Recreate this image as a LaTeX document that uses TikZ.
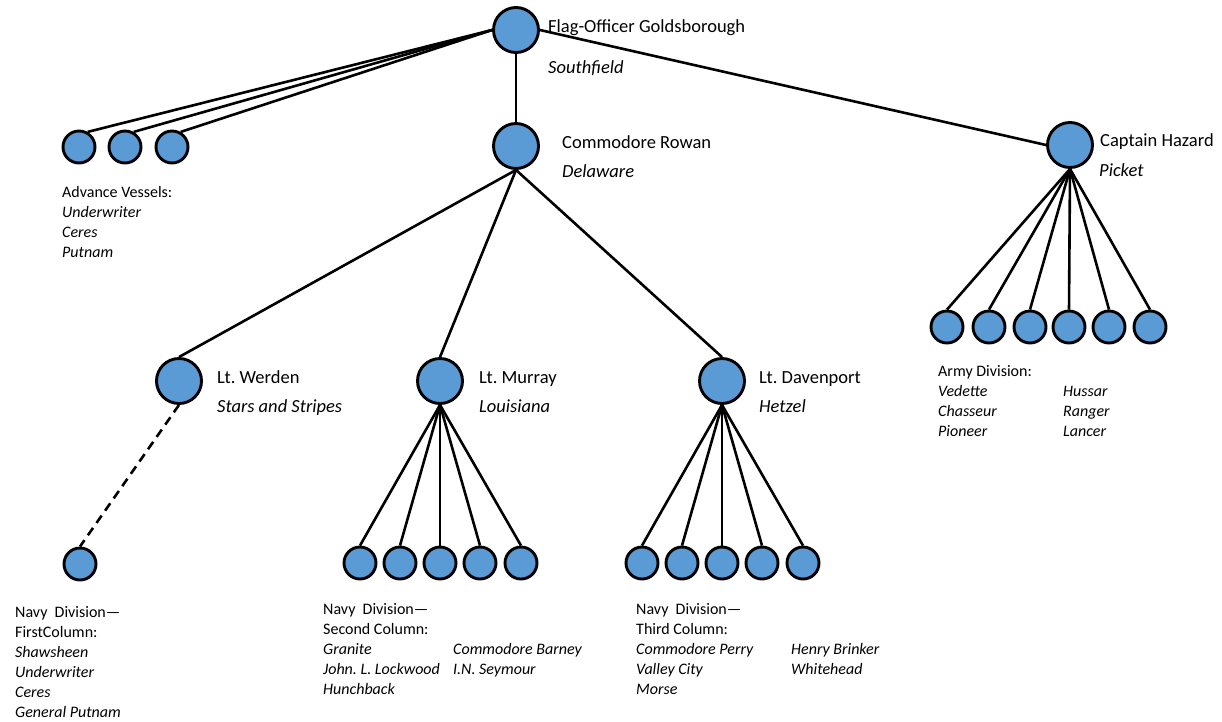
\documentclass[tikz,border=0pt]{standalone}
\usepackage{fontspec}
\setmainfont{Carlito}
\frenchspacing
\usetikzlibrary{backgrounds}
\definecolor{nodeblue}{HTML}{5B9BD5}
\begin{document}
\begin{tikzpicture}[x=1pt,y=-1pt,
  big/.style={circle,draw=black,fill=nodeblue,line width=2.9pt,minimum size=45pt,inner sep=0pt},
  small/.style={circle,draw=black,fill=nodeblue,line width=2.9pt,minimum size=32pt,inner sep=0pt},
  conn/.style={line width=2.6pt},
  dashconn/.style={line width=2.6pt,dash pattern=on 9pt off 6pt},
  lbl/.style={anchor=base west,inner sep=0pt,font=\fontsize{18.5}{22}\selectfont},
  txt/.style={anchor=base west,inner sep=0pt,font=\fontsize{16}{20}\selectfont},
]
\useasboundingbox (0,0) rectangle (1222,721);
% main nodes
\node[big] (g) at (516,30) {};
\node[big] (rowan) at (516,146) {};
\node[big] (hazard) at (1070,145) {};
\node[big] (werden) at (179,381) {};
\node[big] (murray) at (440,381) {};
\node[big] (daven) at (722,381) {};
% advance vessels
\node[small] (a1) at (79,147) {};
\node[small] (a2) at (125,147) {};
\node[small] (a3) at (172,147) {};
% werden child
\node[small] (w1) at (80,564) {};
% murray children
\foreach \i/\x in {1/360,2/400,3/440,4/480,5/521}
  \node[small] (m\i) at (\x,563) {};
% davenport children
\foreach \i/\x in {1/642,2/682,3/722,4/762,5/803}
  \node[small] (d\i) at (\x,563) {};
% hazard children
\foreach \i/\x in {1/947,2/989,3/1030,4/1069,5/1109,6/1150}
  \node[small] (h\i) at (\x,327) {};

\begin{scope}[on background layer]
  \foreach \n in {a1,a2,a3}
    \draw[conn] (g.west) -- (\n.60);
  \draw[conn] (g.east) -- (hazard.west);
  \draw[conn] (g.south) -- (rowan.north);
  \foreach \n in {werden,murray,daven}
    \draw[conn] (rowan.south) -- (\n.north);
  \draw[dashconn] (werden.south) -- (w1.north);
  \foreach \i in {1,...,5}
    \draw[conn] (murray.south) -- (m\i.north);
  \foreach \i in {1,...,5}
    \draw[conn] (daven.south) -- (d\i.north);
  \foreach \i in {1,...,6}
    \draw[conn] (hazard.south) -- (h\i.north);
\end{scope}

% labels
\node[lbl] (lg) at (548,32) {Flag-Officer Goldsborough};
\node[lbl] (lgs) at (548,73) {\itshape Southfield};
\node[lbl] (lr) at (562,148) {Commodore Rowan};
\node[lbl] (lrs) at (562,177) {\itshape Delaware};
\node[lbl] (lh) at (1100,146) {Captain Hazard};
\node[lbl] (lhs) at (1099,176) {\itshape Picket};
\node[lbl] (lw) at (217,383) {Lt. Werden};
\node[lbl] (lws) at (217,412) {\itshape Stars and Stripes};
\node[lbl] (lm) at (479,383) {Lt. Murray};
\node[lbl] (lms) at (479,412) {\itshape Louisiana};
\node[lbl] (ld) at (759,383) {Lt. Davenport};
\node[lbl] (lds) at (759,412) {\itshape Hetzel};

% text blocks
\node[txt] (ta) at (62,197) {\begin{tabular}[t]{@{}l@{}}Advance Vessels:\\ \itshape Underwriter\\ \itshape Ceres\\ \itshape Putnam\end{tabular}};
\node[txt] (tn1) at (15,617) {\begin{tabular}[t]{@{}l@{}}Navy\ \ Division—\\ FirstColumn:\\ \itshape Shawsheen\\ \itshape Underwriter\\ \itshape Ceres\\ \itshape General Putnam\end{tabular}};
\node[txt] (tn2) at (323,614) {\begin{tabular}[t]{@{}p{130pt}@{}l@{}}Navy\ \ Division— & \\ Second Column: & \\ \itshape Granite & \itshape Commodore Barney\\ \itshape John. L. Lockwood & \itshape I.N. Seymour\\ \itshape Hunchback & \end{tabular}};
\node[txt] (tn3) at (636,614) {\begin{tabular}[t]{@{}p{155pt}@{}l@{}}Navy\ \ Division— & \\ Third Column: & \\ \itshape Commodore Perry & \itshape Henry Brinker\\ \itshape Valley City & \itshape Whitehead\\ \itshape Morse & \end{tabular}};
\node[txt] (tar) at (938,376) {\begin{tabular}[t]{@{}p{125pt}@{}l@{}}Army Division: & \\ \itshape Vedette & \itshape Hussar\\ \itshape Chasseur & \itshape Ranger\\ \itshape Pioneer & \itshape Lancer\end{tabular}};
\end{tikzpicture}
\end{document}
